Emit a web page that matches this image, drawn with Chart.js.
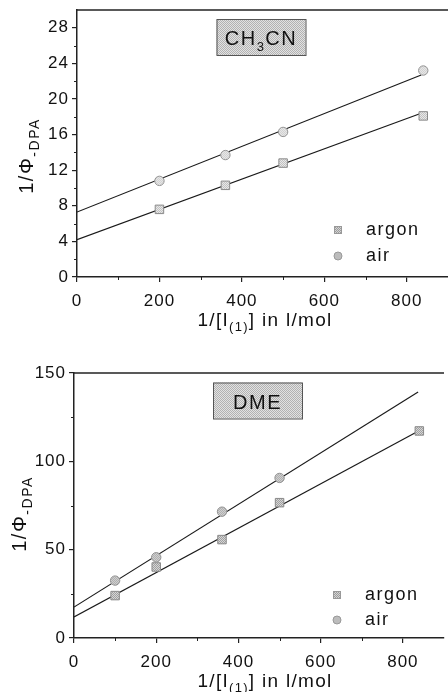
<!DOCTYPE html>
<html>
<head>
<meta charset="utf-8">
<script src="https://cdn.jsdelivr.net/npm/chart.js@4.4.1/dist/chart.umd.min.js"></script>
<style>
  html, body { margin: 0; padding: 0; background: #fff; }
  body { width: 448px; height: 692px; overflow: hidden; position: relative; }
  canvas { position: absolute; left: 0; }
  #topChart { top: 0; }
  #bottomChart { top: 340px; }
</style>
</head>
<body>
<canvas id="topChart" width="455" height="340"></canvas>
<canvas id="bottomChart" width="451" height="352"></canvas>
<script>
'use strict';
/*------------- data -------------*/
const xTicks = [0, 200, 400, 600, 800];
const xMinorTicks = [100, 300, 500, 700];

// CH3CN panel
const topYTicks = [0, 4, 8, 12, 16, 20, 24, 28];
const topYMinor = [2, 6, 10, 14, 18, 22, 26];
const topX = [200, 360, 500, 840];
const topArgon = [7.6, 10.3, 12.8, 18.1];
const topAir = [10.8, 13.7, 16.3, 23.2];
const topFitX = [0, 835];
const topFitArgon = [4.2, 18.4];
const topFitAir = [7.3, 22.7];

// DME panel
const botYTicks = [0, 50, 100, 150];
const botYMinor = [25, 75, 125];
const botArgonX = [100, 200, 360, 500, 840];
const botArgon = [24.0, 40.2, 55.7, 76.6, 117.2];
const botAirX = [100, 200, 360, 500];
const botAir = [32.5, 45.7, 71.5, 90.6];
const botFitX = [0, 837];
const botFitArgon = [11.9, 117.0];
const botFitAir = [17.5, 139.2];

const seriesNames = ['argon', 'air'];
const xTitle = [['1/[I', 0], ['(1)', 1], ['] in l/mol', 0]];
const yTitle = [['1/Φ', 0], ['-DPA', 1]];

const FONT = "'Liberation Sans', Arial, Helvetica, sans-serif";

/*------------- hatch pattern like the scanned grey fill -------------*/
function makeHatch(light, dark) {
  const c = document.createElement('canvas');
  c.width = 2; c.height = 2;
  const g = c.getContext('2d');
  g.fillStyle = light; g.fillRect(0, 0, 2, 2);
  g.fillStyle = dark; g.fillRect(0, 0, 1, 1); g.fillRect(1, 1, 1, 1);
  return g.createPattern(c, 'repeat');
}

function pts(xs, ys) {
  return xs.map((x, i) => ({ x: x, y: ys[i] }));
}

// draw text with subscript parts, centred on cx
function drawRich(ctx, parts, cx, y, size, subSize, spacing) {
  ctx.letterSpacing = spacing + 'px';
  let w = 0;
  parts.forEach(p => {
    ctx.font = (p[1] ? subSize : size) + 'px ' + FONT;
    w += ctx.measureText(p[0]).width;
  });
  let x = cx - w / 2;
  ctx.textAlign = 'left';
  ctx.textBaseline = 'alphabetic';
  parts.forEach(p => {
    ctx.font = (p[1] ? subSize : size) + 'px ' + FONT;
    ctx.fillText(p[0], x, p[1] ? y + size * 0.28 : y);
    x += ctx.measureText(p[0]).width;
  });
}

/*------------- extras: frame, minor ticks, label box, legend, titles -------------*/
const decorPlugin = {
  id: 'decor',
  beforeDraw(chart) {
    chart.ctx.letterSpacing = '1px';
  },
  afterDraw(chart, args, o) {
    const ctx = chart.ctx;
    const a = chart.chartArea;
    const xs = chart.scales.x;
    const ys = chart.scales.y;
    ctx.save();
    ctx.strokeStyle = '#222';
    ctx.lineWidth = 1.5;
    ctx.beginPath();
    ctx.moveTo(a.left, a.top);
    ctx.lineTo(a.right, a.top);
    ctx.stroke();

    ctx.lineWidth = 1;
    ctx.beginPath();
    xMinorTicks.forEach(v => {
      const px = Math.round(xs.getPixelForValue(v)) + 0.5;
      ctx.moveTo(px, a.bottom);
      ctx.lineTo(px, a.bottom + 3);
    });
    o.yMinor.forEach(v => {
      const py = Math.round(ys.getPixelForValue(v)) + 0.5;
      ctx.moveTo(a.left, py);
      ctx.lineTo(a.left - 3, py);
    });
    ctx.stroke();

    // solvent label box
    const b = o.box;
    ctx.fillStyle = makeHatch('#e2e2e2', '#b2b2b2');
    ctx.fillRect(b.x, b.y, b.w, b.h);
    ctx.strokeStyle = '#555';
    ctx.lineWidth = 1;
    ctx.strokeRect(b.x + 0.5, b.y + 0.5, b.w, b.h);
    ctx.fillStyle = '#111';
    drawRich(ctx, o.label, b.x + b.w / 2, b.baseline, 20, 13, 1.5);

    // legend
    const l = o.legend;
    ctx.fillStyle = makeHatch('#d4d4d4', '#9c9c9c');
    ctx.fillRect(l.x - 3.5, l.y1 - 3.5, 7, 7);
    ctx.strokeStyle = '#999';
    ctx.strokeRect(l.x - 3.5, l.y1 - 3.5, 7, 7);
    ctx.beginPath();
    ctx.arc(l.x, l.y2, 4, 0, Math.PI * 2);
    ctx.fillStyle = '#bcbcbc';
    ctx.fill();
    ctx.strokeStyle = '#999';
    ctx.stroke();
    ctx.fillStyle = '#111';
    ctx.font = '18px ' + FONT;
    ctx.letterSpacing = '1.5px';
    ctx.textAlign = 'left';
    ctx.textBaseline = 'middle';
    ctx.fillText(seriesNames[0], l.tx, l.y1);
    ctx.fillText(seriesNames[1], l.tx, l.y2);

    // axis titles
    drawRich(ctx, xTitle, o.xt.x, o.xt.y, 19, 13, 1.3);
    ctx.translate(o.yt.x, o.yt.y);
    ctx.rotate(-Math.PI / 2);
    drawRich(ctx, yTitle, 0, 0, 20, 14, 1.5);
    ctx.restore();
  }
};

function makeChart(id, cfg) {
  const ticksFont = { family: FONT, size: 17 };
  return new Chart(document.getElementById(id), {
    type: 'scatter',
    data: {
      datasets: [
        {
          label: seriesNames[0],
          data: cfg.argon,
          pointStyle: 'rect',
          pointRadius: 6,
          backgroundColor: cfg.argonFill,
          borderColor: '#8a8a8a',
          borderWidth: 1
        },
        {
          label: seriesNames[1],
          data: cfg.air,
          pointStyle: 'circle',
          pointRadius: 4.7,
          backgroundColor: cfg.airFill,
          borderColor: '#939393',
          borderWidth: 1
        },
        {
          label: 'fit argon',
          data: cfg.fitArgon,
          showLine: true,
          pointRadius: 0,
          borderColor: '#1a1a1a',
          borderWidth: 1.2
        },
        {
          label: 'fit air',
          data: cfg.fitAir,
          showLine: true,
          pointRadius: 0,
          borderColor: '#1a1a1a',
          borderWidth: 1.2
        }
      ]
    },
    options: {
      responsive: false,
      animation: false,
      events: [],
      layout: { padding: { top: cfg.padTop, left: 0, right: 0, bottom: 0 } },
      plugins: {
        legend: { display: false },
        tooltip: { enabled: false },
        decor: cfg.decor
      },
      scales: {
        x: {
          type: 'linear',
          min: 0,
          max: 900,
          afterBuildTicks: s => { s.ticks = xTicks.map(v => ({ value: v })); },
          afterFit: s => { s.height = cfg.xHeight; s.paddingLeft = 0; s.paddingRight = 0; },
          grid: { drawOnChartArea: false, drawTicks: true, tickLength: 5, color: '#222', lineWidth: 1.2 },
          border: { display: true, color: '#222', width: 1.5 },
          ticks: { color: '#111', font: ticksFont, padding: 9, maxRotation: 0, autoSkip: false }
        },
        y: {
          type: 'linear',
          min: 0,
          max: cfg.yMax,
          afterBuildTicks: s => { s.ticks = cfg.yTicks.map(v => ({ value: v })); },
          afterFit: s => { s.width = cfg.yWidth; s.paddingTop = 0; s.paddingBottom = 0; },
          grid: { drawOnChartArea: false, drawTicks: true, tickLength: 5, color: '#222', lineWidth: 1.2 },
          border: { display: true, color: '#222', width: 1.5 },
          ticks: { color: '#111', font: ticksFont, padding: 3, autoSkip: false }
        }
      }
    },
    plugins: [decorPlugin]
  });
}

makeChart('topChart', {
  argon: pts(topX, topArgon),
  air: pts(topX, topAir),
  fitArgon: pts(topFitX, topFitArgon),
  fitAir: pts(topFitX, topFitAir),
  argonFill: makeHatch('#e8e8e8', '#c2c2c2'),
  airFill: makeHatch('#e6e6e6', '#d2d2d2'),
  padTop: 10,
  xHeight: 63,
  yWidth: 77,
  yMax: 30,
  yTicks: topYTicks,
  decor: {
    yMinor: topYMinor,
    label: [['CH', 0], ['3', 1], ['CN', 0]],
    box: { x: 216.5, y: 19, w: 89, h: 36, baseline: 45 },
    legend: { x: 338, y1: 230, y2: 256, tx: 366 },
    xt: { x: 265, y: 326 },
    yt: { x: 33, y: 156 }
  }
});

makeChart('bottomChart', {
  argon: pts(botArgonX, botArgon),
  air: pts(botAirX, botAir),
  fitArgon: pts(botFitX, botFitArgon),
  fitAir: pts(botFitX, botFitAir),
  argonFill: makeHatch('#d6d6d6', '#a0a0a0'),
  airFill: makeHatch('#cfcfcf', '#b0b0b0'),
  padTop: 33,
  xHeight: 54,
  yWidth: 74,
  yMax: 150,
  yTicks: botYTicks,
  decor: {
    yMinor: botYMinor,
    label: [['DME', 0]],
    box: { x: 213, y: 42.5, w: 89, h: 36, baseline: 69 },
    legend: { x: 337, y1: 255, y2: 280, tx: 365 },
    xt: { x: 265, y: 347 },
    yt: { x: 26, y: 174 }
  }
});
</script>
</body>
</html>
